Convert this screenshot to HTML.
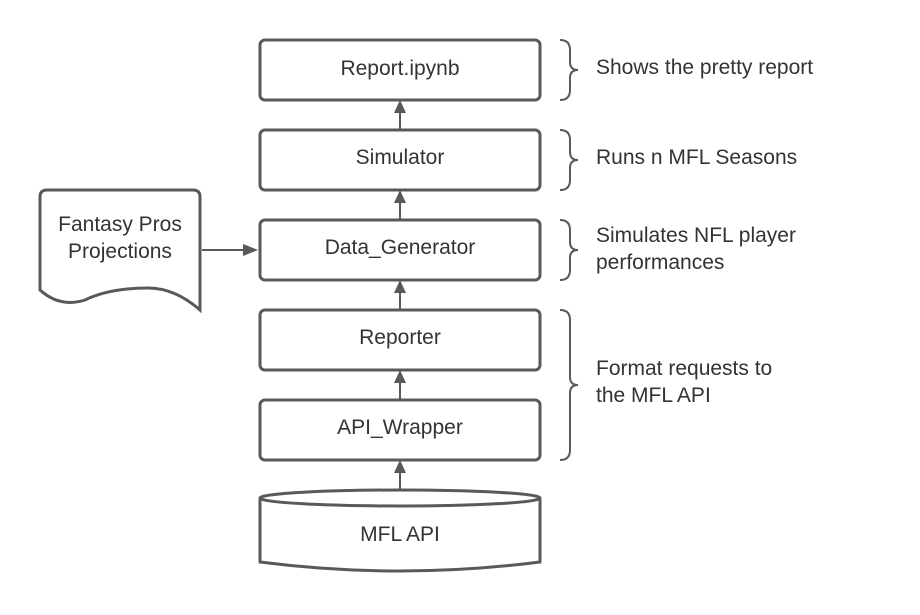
<!DOCTYPE html>
<html><head><style>body{margin:0;background:#fff}</style></head><body>
<svg width="920" height="610" xmlns="http://www.w3.org/2000/svg" font-family="Liberation Sans, sans-serif" font-size="21" fill="#333">
<g fill="#fff" stroke="#595959" stroke-width="3">
<rect x="260" y="40" width="280" height="60" rx="5"/>
<rect x="260" y="130" width="280" height="60" rx="5"/>
<rect x="260" y="220" width="280" height="60" rx="5"/>
<rect x="260" y="310" width="280" height="60" rx="5"/>
<rect x="260" y="400" width="280" height="60" rx="5"/>
<path d="M260 498 L260 562 Q400 580 540 562 L540 498"/>
<ellipse cx="400" cy="498" rx="140" ry="8"/>
<path d="M40 197 Q40 190 47 190 L193 190 Q200 190 200 197 L200 310 Q175 288 148 288 Q110 288 85 300 Q60 308 40 290 Z"/>
</g>
<g stroke="#595959" stroke-width="2" fill="none">
<path d="M400 130V110 M400 220V200 M400 310V290 M400 400V380 M400 490V470 M202 250H245"/>
<path d="M560 40 Q570 40 570 50 V62 Q570 70 578 70 Q570 70 570 78 V90 Q570 100 560 100"/>
<path d="M560 130 Q570 130 570 140 V152 Q570 160 578 160 Q570 160 570 168 V180 Q570 190 560 190"/>
<path d="M560 220 Q570 220 570 230 V242 Q570 250 578 250 Q570 250 570 258 V270 Q570 280 560 280"/>
<path d="M560 310 Q570 310 570 320 V377 Q570 385 578 385 Q570 385 570 393 V450 Q570 460 560 460"/>
</g>
<g fill="#595959">
<path d="M400 100 L394 113 L406 113Z M400 190 L394 203 L406 203Z M400 280 L394 293 L406 293Z M400 370 L394 383 L406 383Z M400 460 L394 473 L406 473Z M258 250 L243 244 L243 256Z"/>
</g>
<g text-anchor="middle">
<text x="400" y="75">Report.ipynb</text>
<text x="400" y="164">Simulator</text>
<text x="400" y="254">Data_Generator</text>
<text x="400" y="344">Reporter</text>
<text x="400" y="434">API_Wrapper</text>
<text x="400" y="541">MFL API</text>
<text x="120" y="231">Fantasy Pros</text>
<text x="120" y="258">Projections</text>
</g>
<text x="596" y="74">Shows the pretty report</text>
<text x="596" y="164">Runs n MFL Seasons</text>
<text x="596" y="242">Simulates NFL player</text>
<text x="596" y="269">performances</text>
<text x="596" y="375">Format requests to</text>
<text x="596" y="402">the MFL API</text>
</svg>
</body></html>
